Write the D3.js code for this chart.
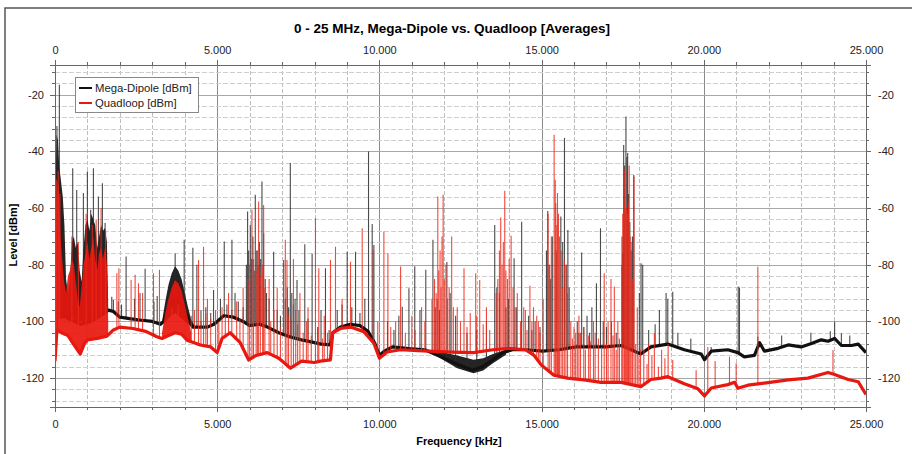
<!DOCTYPE html>
<meta charset="utf-8">
<head>
<style>
body { margin: 0; background: #fff; }
svg { display: block; font-family: Arial, "Liberation Sans", sans-serif; }
.axis path, .axis line { stroke: #666; shape-rendering: crispEdges; }
.axis text { font-size: 11px; fill: #222; font-family: Arial, "Liberation Sans", sans-serif; }
.grid line { shape-rendering: crispEdges; }
</style>
<script src="https://d3js.org/d3.v7.min.js"></script>
</head>
<body>
<svg width="912" height="454"></svg>
<script>

// tick labels
var freqTicks = [0, 5000, 10000, 15000, 20000, 25000];
var levelTicks = [-20, -40, -60, -80, -100, -120];

// Mega-Dipole: noise floor [kHz, dBm]
var dipoleFloor = [[0,-112],[40,-100],[150,-96],[400,-99],[800,-101],[1100,-100],[1400,-98],[1650,-96],[1800,-96.5],[2000,-98.5],
  [2300,-99],[2600,-99.5],[3000,-100],[3250,-101],[3350,-100],[3500,-95],[3700,-92],[3900,-94],[4100,-99],[4250,-102],[4500,-102],
  [4700,-102],[4900,-101],[5000,-100],[5200,-98],[5500,-98.5],[5800,-100],[6000,-101.5],[6300,-101],[6550,-102],[6900,-104],
  [7250,-105.5],[7600,-106.5],[8000,-107.5],[8200,-108],[8490,-108.3],[8560,-104],[8800,-102],[9100,-101],[9400,-101.5],
  [9650,-103.5],[9850,-107.5],[10000,-112],[10150,-110.5],[10400,-109],[10900,-109.6],[11400,-110],[11900,-112.5],[12450,-115.4],
  [12870,-117.2],[13170,-116],[13480,-113.7],[13800,-111],[14100,-110],[14500,-110],[15030,-110.5],[15540,-110],[16060,-109],
  [16570,-109],[16980,-109],[17450,-108.5],[18060,-111.5],[18370,-109],[18890,-108],[19400,-110],[19920,-111.5],[20020,-113.5],
  [20230,-110.5],[20740,-110],[21050,-111],[21250,-112.5],[21560,-112],[21720,-107.5],[21870,-110.5],[22290,-109.5],[22600,-108.3],
  [23000,-109],[23320,-107.8],[23620,-106.5],[23830,-107],[24030,-106],[24240,-108.5],[24550,-108.5],[24760,-108],[25000,-111]];

// Mega-Dipole: dense regions [kHz, low dBm, high dBm]
var dipoleMass = [
  [[0,-112,-100],[20,-104,-50],[50,-100,-34],[90,-99,-36],[130,-99,-45],[180,-99,-50],[240,-99,-56],[290,-99,-66],[340,-99,-85],
   [400,-99,-90],[460,-99,-86],[520,-99,-72],[580,-99,-70],[640,-100,-74],[700,-100,-72],[760,-100,-82],[820,-100,-86],[880,-100,-74],
   [940,-100,-66],[1000,-100,-64],[1060,-100,-68],[1120,-100,-62],[1180,-99,-64],[1240,-99,-66],[1300,-99,-74],[1360,-98,-70],
   [1420,-98,-66],[1480,-98,-68],[1540,-97,-67],[1600,-97,-72],[1640,-96,-95]],
  [[3300,-101,-100],[3400,-100,-93],[3500,-99,-87],[3600,-98,-83],[3700,-97,-80.5],[3800,-98,-82],[3900,-99,-85],[4000,-100,-90],
   [4100,-101,-95],[4200,-102,-99.5],[4300,-102,-101.5]],
  [[11800,-112.5,-110.5],[12400,-116.5,-112],[12900,-118.3,-113.5],[13200,-117.3,-113],[13500,-114.8,-111.5],[13900,-111.8,-110]]
];

// Mega-Dipole: single carriers [kHz, peak dBm]
var dipoleSpikes = [[60,-31],[134,-16.5],[546,-45.9],[669,-53.6],[875,-54.7],[998,-47.1],[1100,-60.6],[1184,-45.9],[1338,-55.9],
  [1461,-51.2],[1544,-65.3],[1750,-91.3],[1800,-92.4],[1950,-93],[2050,-94],[2192,-77.1],[2450,-92],[2620,-90],[2778,-81.4],
  [3050,-93],[3150,-91],[3704,-76],[3982,-71.2],[4250,-74],[4374,-80],[4500,-96],[4650,-95],[4800,-97],[4888,-88.9],
  [5100,-92],[5217,-71.8],[5300,-94],[5454,-71.2],[5550,-90],[5650,-93],[5800,-95],
  [5900,-80],[5937,-61.2],[5970,-75],[6020,-66],[6060,-78],[6100,-70],[6140,-82],[6174,-55.3],[6220,-75],[6260,-80],[6300,-72],
  [6340,-78],[6380,-50.6],[6432,-68.9],[6480,-85],[6520,-90],[6600,-92],[6740,-75.4],[6850,-96],[6950,-98],
  [7050,-78.3],[7100,-92],[7160,-88],[7200,-95],[7254,-44.1],[7300,-90],[7350,-94],[7400,-92],[7460,-85.4],[7520,-96],
  [7700,-72.8],[7800,-99],[7926,-76],[8100,-102],[8200,-96],[8338,-81.2],[8450,-103],[8700,-96],[8850,-94],[9007,-75.4],
  [9150,-95],[9264,-75.4],[9400,-97],[9550,-92],[9665,-40],[9778,-65.6],[9830,-73],[10250,-100],[10448,-103],[10600,-98],
  [10705,-94.8],[10910,-88.3],[11090,-80.5],[11250,-96],[11430,-81.8],[11650,-71.2],[11720,-95],[11780,-92],[11850,-96],
  [12080,-79],[12180,-90],[12350,-98],[12700,-104],[13000,-103],[13300,-100],[13555,-66],[13620,-88],[13700,-90],[13900,-95],
  [13980,-92],[14152,-77.7],[14220,-95],[14385,-64.8],[14600,-98],[14700,-103],[14800,-100],[14950,-102],
  [15150,-75],[15190,-61],[15230,-80],[15280,-85],[15330,-70],[15450,-75],[15593,-63],[15650,-72],[15705,-35.3],[15760,-80],
  [15810,-67.7],[15850,-88],[16100,-100],[16150,-104],[16235,-75.7],[16300,-102],[16400,-98],[16480,-104],[16550,-95],
  [16690,-86.5],[16815,-67.1],[16900,-100],[17000,-102],[17150,-100],[17300,-104],
  [17480,-70],[17499,-76],[17530,-37.7],[17560,-45],[17600,-27.7],[17630,-42],[17653,-40.6],[17680,-55],[17720,-65],[17760,-75],
  [17800,-70],[17840,-48.3],[18013,-90],[18065,-79.5],[18117,-80],[18300,-103],[18500,-101],[18631,-96],[18837,-90],
  [18890,-92],[19042,-89.5],[19200,-104],[19600,-106],[20226,-109],[21060,-87.7],[21100,-88],[21666,-105.4],[22400,-105],
  [23300,-104],[23900,-103.5],[24033,-100.1],[24241,-104.2],[24500,-105]];

// Quadloop: noise floor [kHz, dBm]
var quadFloor = [[0,-114],[60,-103],[200,-104],[400,-105],[600,-108.5],[780,-111.5],[900,-108],[1000,-106.5],[1300,-106],[1600,-105.2],
  [1800,-103],[2000,-102],[2400,-102.5],[2800,-103.5],[3140,-105.4],[3300,-106],[3500,-105],[3700,-104],[3900,-104.5],[4070,-106.6],
  [4480,-108.3],[4800,-109],[5000,-111],[5150,-106],[5400,-104],[5710,-107.5],[5970,-113.6],[6200,-112],[6540,-111],[6900,-113],
  [7260,-116.5],[7600,-114],[8000,-114.5],[8180,-114],[8490,-113.6],[8560,-104],[8800,-102.5],[9110,-102],[9520,-103.6],[9830,-107.7],
  [10000,-113],[10240,-110.8],[10650,-110],[11200,-110.3],[11680,-110.6],[12200,-110.8],[12900,-111],[13500,-110],[14000,-109.5],
  [14500,-110],[14770,-112],[15000,-115.5],[15380,-119],[15800,-120],[16310,-120.6],[16830,-121.5],[17450,-121.5],[18060,-123],
  [18370,-120.5],[18680,-120],[18890,-119.5],[19400,-122],[19820,-123.8],[20020,-126.3],[20230,-123.5],[20740,-122.3],[20950,-121.5],
  [21050,-123.6],[21360,-122.5],[21980,-121.6],[22600,-120.6],[23210,-120],[23830,-118],[24030,-118.7],[24450,-120.5],[24760,-121.3],
  [25000,-125.8]];

// Quadloop: dense regions [kHz, low dBm, high dBm]
var quadMass = [
  [[0,-114,-100],[40,-103,-60],[80,-103,-50],[120,-103,-54],[170,-104,-70],[220,-104,-78],[280,-104,-86],[340,-105,-90],[400,-105,-84],
   [460,-106,-82],[520,-107,-78],[580,-108,-80],[640,-109,-86],[700,-110,-92],[760,-111,-95],[820,-110,-88],[880,-108,-80],
   [940,-107,-76],[1000,-106.5,-72],[1060,-106.5,-78],[1120,-106,-74],[1180,-106,-70],[1240,-106,-78],[1300,-106,-82],
   [1360,-105.5,-76],[1420,-105.5,-74],[1480,-105.3,-78],[1540,-105.2,-74],[1600,-105,-80],[1640,-104.5,-100]],
  [[3300,-106,-104],[3400,-105.5,-97],[3500,-105,-92],[3600,-104.5,-88],[3700,-104,-85.5],[3800,-104.5,-86.5],[3900,-105,-89],
   [4000,-106,-94],[4100,-106.5,-99],[4200,-107,-104]]
];

// Quadloop: single carriers [kHz, peak dBm]
var quadSpikes = [[40,-50],[100,-47],[150,-55],[520,-70],[720,-72],[960,-62],[1150,-66],[1270,-64],[1420,-60],[1560,-68],
  [1907,-83],[1970,-81.2],[2346,-85.4],[2470,-83.5],[2573,-86.5],[2700,-90],[3036,-83],[3220,-81.8],[3600,-95],[3800,-94],
  [4200,-98],[4300,-96],[4425,-78.3],[4500,-100],[4579,-73.6],[4650,-97],[4700,-92],[4800,-99],[4950,-96],
  [5050,-100],[5150,-95],[5250,-98],[5350,-90],[5450,-96],[5600,-93],[5700,-99],[5800,-88],
  [5950,-85],[6000,-80],[6071,-60.6],[6120,-78],[6200,-82],[6240,-75],[6277,-57.7],[6330,-84],[6400,-80],[6431,-58.9],[6470,-88],
  [6600,-85],[6650,-100],[6750,-96],[6850,-88],[6950,-102],[7100,-71.2],[7151,-78.3],[7200,-98],[7280,-100],[7350,-78],
  [7420,-96],[7480,-101],[7550,-90],[7650,-104],[7750,-100],[7800,-95],[7900,-105],[8029,-63.6],[8100,-102],[8132,-81.2],
  [8250,-106],[8300,-98],[8400,-104],[8492,-78.3],[8646,-73.6],[8850,-92],[9110,-78.9],[9470,-67.1],[9809,-74.8],[9950,-100],
  [10138,-68.3],[10262,-76],[10350,-102],[10500,-100],[10653,-80.6],[10800,-104],[11000,-98],[11100,-103],[11300,-95],
  [11400,-100],[11620,-92],[11700,-85],[11750,-90],[11800,-55.9],[11830,-82],[11870,-75],[11900,-88],[11930,-70],[11965,-55.3],
  [12000,-85],[12050,-80],[12100,-92],[12150,-88],[12228,-70],[12280,-95],[12400,-95],[12500,-100],[12608,-81.2],[12700,-102],
  [12800,-97],[12969,-83],[13000,-98],[13092,-85.4],[13200,-101],[13300,-95],[13400,-103],
  [13600,-90],[13650,-85],[13700,-75],[13740,-63.3],[13780,-80],[13820,-72],[13864,-53.9],[13900,-82],[13950,-85],[14000,-78],
  [14060,-69.8],[14120,-88],[14180,-95],[14250,-90],[14350,-100],[14450,-95],[14500,-96],[14550,-103],[14640,-87.4],
  [14700,-100],[14750,-95],[14850,-98],[14900,-100],[14950,-104],[15050,-92],
  [15200,-62],[15250,-80],[15300,-70],[15387,-34.1],[15420,-50],[15438,-58.3],[15470,-66],[15490,-54.7],[15520,-62],[15550,-70],
  [15600,-75],[15650,-88],[15700,-78],[15750,-80],[15800,-90],[15900,-100],[15950,-106],[16000,-102],[16050,-104],[16100,-108],
  [16150,-98],[16200,-104],[16300,-102],[16350,-110],[16450,-105],[16500,-107],[16600,-100],[16650,-104],[16750,-106],
  [16850,-109],[16930,-83],[17000,-108],[17050,-100],[17139,-85],[17200,-105],[17242,-87.7],[17300,-110],[17350,-100],[17400,-106],
  [17470,-80],[17500,-62],[17540,-58],[17560,-46.5],[17590,-60],[17620,-60],[17650,-62],[17680,-58],[17700,-45],[17730,-70],
  [17760,-72],[17800,-85],[17850,-48.9],[17900,-108],[17950,-95],[18000,-112],[18050,-110],[18150,-110],[18250,-115],[18300,-108],
  [18400,-112],[18476,-104.2],[18600,-116],[18700,-110],[18800,-113],[18900,-108],[19042,-113.6],[19763,-117.2],
  [20123,-109],[20350,-114],[20792,-112.5],[20997,-114.8],[21666,-80.7],[23982,-110.1]];

var series = [
  {name: "Mega-Dipole [dBm]", color: "#111111", spikeColor: "#2a2a2a", width: 3.2, floor: dipoleFloor, mass: dipoleMass, spikes: dipoleSpikes},
  {name: "Quadloop [dBm]", color: "#e8170f", spikeColor: "#ec2a1c", width: 3.2, floor: quadFloor, mass: quadMass, spikes: quadSpikes}
];

var svg = d3.select("svg"),
    width = +svg.attr("width"),
    height = +svg.attr("height");

var plotL = 55, plotR = 866, plotT = 65, plotB = 407;

var x = d3.scaleLinear().domain([0, 25000]).range([plotL, plotR]);
var y = d3.scaleLinear().domain([-130.2, -9.5]).range([plotB, plotT]);

var loc = d3.formatLocale({decimal: ",", thousands: ".", grouping: [3], currency: ["", ""], minus: "-"});
var fmt = loc.format(",");

// outer frame
svg.append("rect")
    .attr("x", 5).attr("y", 8)
    .attr("width", 940).attr("height", 480)
    .attr("fill", "none")
    .attr("stroke", "#555")
    .attr("stroke-width", 1.5);

svg.append("text")
    .attr("x", 452).attr("y", 33)
    .attr("text-anchor", "middle")
    .style("font-size", "13.5px")
    .style("font-weight", "bold")
    .text("0 - 25 MHz, Mega-Dipole vs. Quadloop [Averages]");

// grid
var xMinor = d3.range(1000, 25000, 1000);
var yMinor = d3.range(-128, -9, 4);

var grid = svg.append("g").attr("class", "grid");
grid.selectAll(".gx")
  .data(xMinor)
  .enter().append("line")
    .attr("x1", d => Math.round(x(d)) + 0.5).attr("x2", d => Math.round(x(d)) + 0.5)
    .attr("y1", plotT).attr("y2", plotB)
    .attr("stroke", d => d % 5000 == 0 ? "#8a8a8a" : "#bdbdbd")
    .attr("stroke-dasharray", d => d % 5000 == 0 ? null : "4,2");
grid.selectAll(".gy")
  .data(yMinor)
  .enter().append("line")
    .attr("y1", d => Math.round(y(d)) + 0.5).attr("y2", d => Math.round(y(d)) + 0.5)
    .attr("x1", plotL).attr("x2", plotR)
    .attr("stroke", d => d % 20 == 0 ? "#a8a8a8" : "#cfcfcf")
    .attr("stroke-dasharray", d => d % 20 == 0 ? null : "5,2");

svg.append("clipPath").attr("id", "plotclip")
  .append("rect").attr("x", plotL).attr("y", plotT).attr("width", plotR - plotL).attr("height", plotB - plotT);

var plot = svg.append("g").attr("clip-path", "url(#plotclip)");

var floorLine = d3.line().x(d => x(d[0])).y(d => y(d[1]));
var massArea = d3.area().x(d => x(d[0])).y0(d => y(d[1])).y1(d => y(d[2]));
var aboveFloor = d3.area().x(d => x(d[0])).y0(plotT).y1(d => y(d[1]));

series.forEach(function(s, i) {
  var g = plot.append("g");

  g.append("clipPath").attr("id", "above" + i)
    .append("path").attr("d", aboveFloor(s.floor));

  g.selectAll(".mass")
    .data(s.mass)
    .enter().append("path")
      .attr("d", massArea)
      .attr("fill", s.color)
      .attr("fill-opacity", 0.92);

  g.append("g")
      .attr("clip-path", "url(#above" + i + ")")
    .selectAll("line")
    .data(s.spikes)
    .enter().append("line")
      .attr("x1", d => x(d[0])).attr("x2", d => x(d[0]))
      .attr("y1", d => y(d[1])).attr("y2", plotB)
      .attr("stroke", s.spikeColor)
      .attr("stroke-width", 1.1)
      .attr("stroke-opacity", 0.85);

  g.append("path")
      .attr("d", floorLine(s.floor))
      .attr("fill", "none")
      .attr("stroke", s.color)
      .attr("stroke-width", s.width)
      .attr("stroke-linejoin", "round");
});

// axes on all four sides
function addAxis(axis, tr) {
  return svg.append("g").attr("class", "axis").attr("transform", tr).call(axis);
}
var xMajor = freqTicks;
var yMajor = levelTicks;

addAxis(d3.axisTop(x).tickValues(xMinor.filter(d => d % 5000)).tickSize(3).tickFormat(""), "translate(0," + plotT + ")");
addAxis(d3.axisBottom(x).tickValues(xMinor.filter(d => d % 5000)).tickSize(3).tickFormat(""), "translate(0," + plotB + ")");
addAxis(d3.axisLeft(y).tickValues(yMinor.filter(d => d % 20)).tickSize(3).tickFormat(""), "translate(" + plotL + ",0)");
addAxis(d3.axisRight(y).tickValues(yMinor.filter(d => d % 20)).tickSize(3).tickFormat(""), "translate(" + plotR + ",0)");

addAxis(d3.axisTop(x).tickValues(xMajor).tickSize(5).tickPadding(6).tickFormat(fmt), "translate(0," + plotT + ")");
addAxis(d3.axisBottom(x).tickValues(xMajor).tickSize(5).tickPadding(8).tickFormat(fmt), "translate(0," + plotB + ")");
addAxis(d3.axisLeft(y).tickValues(yMajor).tickSize(5).tickPadding(6).tickFormat(fmt), "translate(" + plotL + ",0)");
addAxis(d3.axisRight(y).tickValues(yMajor).tickSize(5).tickPadding(7).tickFormat(fmt), "translate(" + plotR + ",0)");

svg.selectAll(".axis .domain").attr("stroke", "#555");

svg.append("text")
    .attr("x", 459).attr("y", 445)
    .attr("text-anchor", "middle")
    .style("font-size", "11px")
    .style("font-weight", "bold")
    .text("Frequency [kHz]");

svg.append("text")
    .attr("transform", "translate(17,235) rotate(-90)")
    .attr("text-anchor", "middle")
    .style("font-size", "11px")
    .style("font-weight", "bold")
    .text("Level [dBm]");

// legend
var legend = svg.append("g");
legend.append("rect")
    .attr("x", 75.5).attr("y", 77.5)
    .attr("width", 123).attr("height", 35)
    .attr("fill", "#fff")
    .attr("stroke", "#888");
series.forEach(function(s, i) {
  var ly = 88 + i * 15;
  legend.append("line")
      .attr("x1", 79).attr("x2", 92)
      .attr("y1", ly).attr("y2", ly)
      .attr("stroke", s.color)
      .attr("stroke-width", 2);
  legend.append("text")
      .attr("x", 95).attr("y", ly + 4)
      .style("font-size", "11.3px")
      .attr("fill", "#222")
      .text(s.name);
});

</script>
</body>
